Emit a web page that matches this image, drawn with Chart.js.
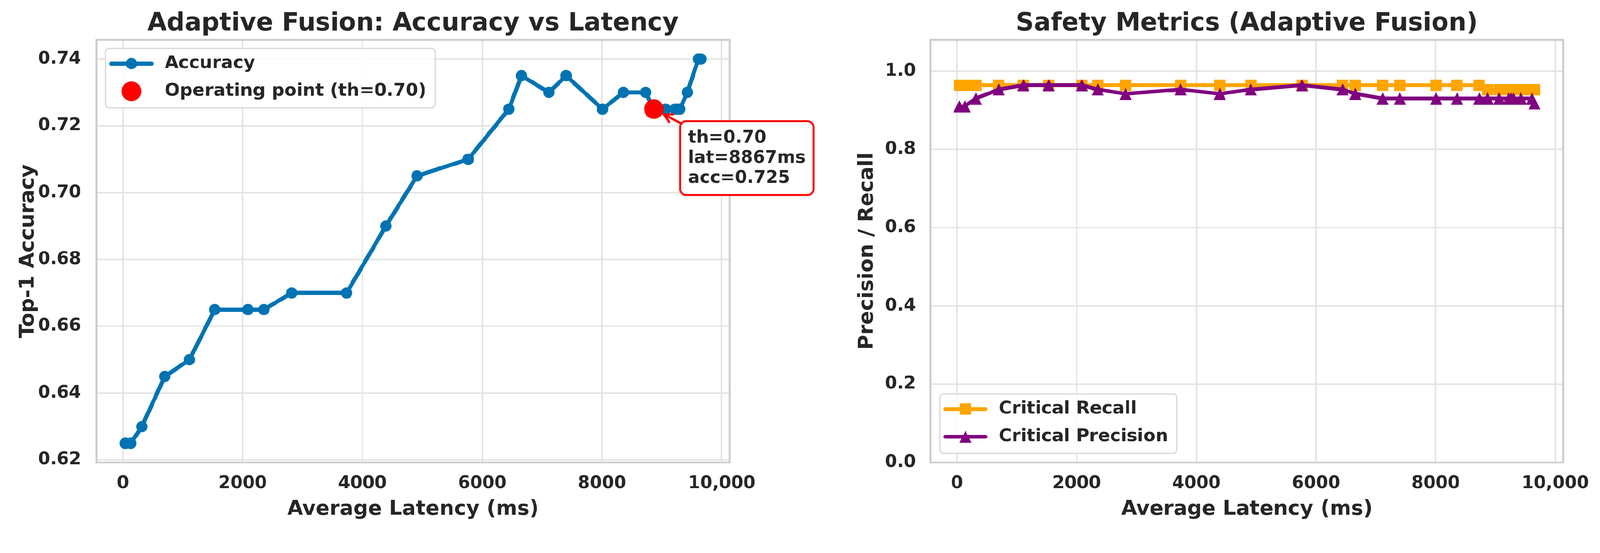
<!DOCTYPE html>
<html>
<head>
<meta charset="utf-8">
<script src="https://cdn.jsdelivr.net/npm/chart.js@4.4.1/dist/chart.umd.min.js"></script>
<style>
  html, body { margin: 0; padding: 0; background: #ffffff; overflow: hidden; }
  #fig { width: 4226px; height: 1415px; position: relative; transform-origin: 0 0; }
  canvas { position: absolute; top: 0; }
  #accChart { left: 0; }
  #safetyChart { left: 2200px; }
</style>
</head>
<body>
<div id="fig">
<canvas id="accChart" width="2200" height="1415"></canvas>
<canvas id="safetyChart" width="2026" height="1415"></canvas>
</div>
<script>
// === Datos del barrido de umbral ===
const latencyMs = [40, 130, 316, 699, 1111, 1533, 2087, 2354, 2818, 3736, 4392, 4910, 5766, 6445,
                   6656, 7113, 7401, 8008, 8357, 8729, 8867, 9060, 9220, 9260, 9300, 9424, 9610, 9650];
const accuracy = [0.625, 0.625, 0.630, 0.645, 0.650, 0.665, 0.665, 0.665, 0.670, 0.670, 0.690, 0.705, 0.710, 0.725,
                  0.735, 0.730, 0.735, 0.725, 0.730, 0.730, 0.725, 0.725, 0.725, 0.725, 0.725, 0.730, 0.740, 0.740];
const criticalRecall = [0.964, 0.964, 0.964, 0.964, 0.964, 0.964, 0.964, 0.964, 0.964, 0.964, 0.964, 0.964, 0.964, 0.964,
                        0.964, 0.964, 0.964, 0.964, 0.964, 0.964, 0.952, 0.952, 0.952, 0.952, 0.952, 0.952, 0.952, 0.952];
const criticalPrecision = [0.910, 0.910, 0.930, 0.953, 0.964, 0.964, 0.964, 0.953, 0.942, 0.953, 0.942, 0.953, 0.964, 0.953,
                           0.942, 0.930, 0.930, 0.930, 0.930, 0.930, 0.930, 0.930, 0.930, 0.930, 0.930, 0.930, 0.930, 0.917];

// punto de operación
const opThreshold = 0.70;
const opLatency = 8867;
const opAccuracy = 0.725;

// ticks
const xTickValues = [0, 2000, 4000, 6000, 8000, 10000];
const xTickLabels = ['0', '2000', '4000', '6000', '8000', '10,000'];
const accTickValues = [0.62, 0.64, 0.66, 0.68, 0.70, 0.72, 0.74];
const accTickLabels = ['0.62', '0.64', '0.66', '0.68', '0.70', '0.72', '0.74'];
const prTickValues = [0, 0.2, 0.4, 0.6, 0.8, 1.0];
const prTickLabels = ['0.0', '0.2', '0.4', '0.6', '0.8', '1.0'];

// colores
const BLUE = '#0173b2';
const RED = '#ff0000';
const ORANGE = '#ffa500';
const PURPLE = '#800080';
const TEXT = '#262626';
const GRID = '#e4e4e4';
const SPINE = '#cccccc';
const FONT = "'DejaVu Sans', sans-serif";

// la figura mide 4226px; si la ventana es más estrecha se escala entera
const fig = document.getElementById('fig');
const fitScale = Math.min(1, window.innerWidth / 4226);
fig.style.transform = `scale(${fitScale})`;

// margen automático tipo matplotlib (5%)
function padded(lo, hi) {
  const m = (hi - lo) * 0.05;
  return [lo - m, hi + m];
}
const [xMin, xMax] = padded(Math.min(...latencyMs), Math.max(...latencyMs));
const [accMin, accMax] = padded(Math.min(...accuracy, opAccuracy), Math.max(...accuracy, opAccuracy));

// marcadores como en matplotlib
function markerCanvas(kind, color, size) {
  const c = document.createElement('canvas');
  c.width = size; c.height = size;
  const g = c.getContext('2d');
  g.fillStyle = color;
  g.beginPath();
  if (kind === 'tri') {
    g.moveTo(size / 2, 0); g.lineTo(size, size); g.lineTo(0, size); g.closePath();
  } else {
    g.rect(0, 0, size, size);
  }
  g.fill();
  return c;
}
const squareMarker = markerCanvas('rect', ORANGE, 30);
const triMarker = markerCanvas('tri', PURPLE, 32);

function xAxis() {
  return {
    type: 'linear', min: xMin, max: xMax,
    afterBuildTicks: s => { s.ticks = xTickValues.map(v => ({ value: v })); },
    afterFit: s => { s.height = 194; },
    grid: { color: GRID, lineWidth: 4, drawTicks: false },
    border: { display: false },
    ticks: { padding: 28, color: TEXT, autoSkip: false, maxRotation: 0,
             font: { family: FONT, size: 46, weight: 'bold' },
             callback: (v, i) => xTickLabels[i] },
    title: { display: true, text: 'Average Latency (ms)', color: TEXT,
             font: { family: FONT, size: 54, weight: 'bold' }, padding: { top: 0, bottom: 38 } }
  };
}

function yAxis(min, max, values, labels, width, pad, title, titlePad) {
  return {
    type: 'linear', min: min, max: max,
    afterBuildTicks: s => { s.ticks = values.map(v => ({ value: v })); },
    afterFit: s => { s.width = width; },
    grid: { color: GRID, lineWidth: 4, drawTicks: false },
    border: { display: false },
    ticks: { padding: pad, color: TEXT, autoSkip: false,
             font: { family: FONT, size: 46, weight: 'bold' },
             callback: (v, i) => labels[i] },
    title: { display: true, text: title, color: TEXT,
             font: { family: FONT, size: 54, weight: 'bold' }, padding: { top: titlePad, bottom: 0 } }
  };
}

// título, marco y leyenda dibujados a mano
function decorPlugin(titleText, legendItems, legendCorner, legendWidthPad) {
  return {
    id: 'decor',
    beforeDatasetsDraw(chart) {
      const { ctx, chartArea: a } = chart;
      ctx.save();
      ctx.strokeStyle = SPINE;
      ctx.lineWidth = 5;
      ctx.strokeRect(a.left, a.top, a.right - a.left, a.bottom - a.top);
      ctx.restore();
    },
    afterDraw(chart) {
      const { ctx, chartArea: a } = chart;
      ctx.save();
      ctx.fillStyle = TEXT;
      ctx.font = `bold 66px ${FONT}`;
      ctx.textAlign = 'center';
      ctx.textBaseline = 'alphabetic';
      ctx.fillText(titleText, (a.left + a.right) / 2, 80);

      // leyenda
      ctx.font = `bold 47px ${FONT}`;
      const tw = Math.max(...legendItems.map(it => ctx.measureText(it.label).width));
      const w = 156 + tw + legendWidthPad;
      const h = 157;
      const lx = a.left + 24;
      const ly = legendCorner === 'upper' ? a.top + 23 : a.bottom - 24 - h;
      ctx.beginPath();
      ctx.roundRect(lx, ly, w, h, 10);
      ctx.fillStyle = 'rgba(255,255,255,0.85)';
      ctx.fill();
      ctx.strokeStyle = '#d6d6d6';
      ctx.lineWidth = 3;
      ctx.stroke();
      legendItems.forEach((it, i) => {
        const cy = ly + 40 + i * 73;
        const x0 = lx + 15, x1 = lx + 121, cx = (x0 + x1) / 2;
        if (it.line) {
          ctx.beginPath();
          ctx.moveTo(x0, cy); ctx.lineTo(x1, cy);
          ctx.strokeStyle = it.color; ctx.lineWidth = it.width; ctx.lineCap = 'round';
          ctx.stroke();
        }
        if (it.marker === 'circle') {
          ctx.beginPath();
          ctx.arc(cx, cy, it.radius, 0, Math.PI * 2);
          ctx.fillStyle = it.color; ctx.fill();
        } else if (it.marker) {
          ctx.drawImage(it.marker, cx - it.marker.width / 2, cy - it.marker.height / 2);
        }
        ctx.fillStyle = TEXT;
        ctx.textAlign = 'left';
        ctx.textBaseline = 'middle';
        ctx.fillText(it.label, lx + 156, cy);
      });
      ctx.restore();
    }
  };
}

// anotación del punto de operación
const opAnnotation = {
  id: 'opAnnotation',
  afterDatasetsDraw(chart) {
    const { ctx, scales } = chart;
    const px = scales.x.getPixelForValue(opLatency);
    const py = scales.y.getPixelForValue(opAccuracy);
    const lines = [`th=${opThreshold.toFixed(2)}`, `lat=${opLatency}ms`, `acc=${opAccuracy.toFixed(3)}`];
    ctx.save();
    ctx.font = `bold 46px ${FONT}`;
    const tw = Math.max(...lines.map(l => ctx.measureText(l).width));
    const bx = px + 69, by = py + 32, bw = tw + 42, bh = 195;

    // flecha desde el borde de la caja hasta el punto
    const cx = bx + bw / 2, cy = by + bh / 2;
    const dx = px - cx, dy = py - cy;
    const len = Math.hypot(dx, dy);
    const ux = dx / len, uy = dy / len;
    const t = Math.min((bw / 2) / Math.abs(dx), (bh / 2) / Math.abs(dy));
    const sx = cx + dx * t, sy = cy + dy * t;
    const ex = px - ux * 30, ey = py - uy * 30;
    ctx.strokeStyle = RED;
    ctx.lineWidth = 6;
    ctx.lineCap = 'round';
    ctx.beginPath();
    ctx.moveTo(sx, sy); ctx.lineTo(ex, ey);
    const ang = Math.atan2(uy, ux);
    [0.5, -0.5].forEach(d => {
      ctx.moveTo(ex, ey);
      ctx.lineTo(ex - 24 * Math.cos(ang + d), ey - 24 * Math.sin(ang + d));
    });
    ctx.stroke();

    ctx.beginPath();
    ctx.roundRect(bx, by, bw, bh, 16);
    ctx.fillStyle = '#ffffff';
    ctx.fill();
    ctx.lineWidth = 5;
    ctx.stroke();
    ctx.fillStyle = TEXT;
    ctx.textAlign = 'left';
    ctx.textBaseline = 'alphabetic';
    lines.forEach((l, i) => ctx.fillText(l, bx + 21, by + 57 + i * 53));
    ctx.restore();
  }
};

// === GRAFICO 1: Accuracy vs Latency ===
new Chart(document.getElementById('accChart'), {
  type: 'line',
  data: {
    datasets: [
      {
        label: 'Accuracy',
        data: latencyMs.map((x, i) => ({ x: x, y: accuracy[i] })),
        borderColor: BLUE, backgroundColor: BLUE,
        borderWidth: 11, borderJoinStyle: 'round', borderCapStyle: 'round',
        pointRadius: 15, pointBorderWidth: 0, pointBackgroundColor: BLUE,
        order: 1
      },
      {
        label: `Operating point (th=${opThreshold.toFixed(2)})`,
        data: [{ x: opLatency, y: opAccuracy }],
        showLine: false,
        pointRadius: 26, pointBorderWidth: 0, pointBackgroundColor: RED, borderColor: RED,
        order: 0
      }
    ]
  },
  options: {
    responsive: false,
    devicePixelRatio: 1,
    animation: false,
    layout: { padding: { top: 105, right: 273, bottom: 0, left: 0 } },
    plugins: { legend: { display: false }, title: { display: false }, tooltip: { enabled: false } },
    scales: {
      x: xAxis(),
      y: yAxis(accMin, accMax, accTickValues, accTickLabels, 255, 41, 'Top-1 Accuracy', 43)
    }
  },
  plugins: [
    decorPlugin('Adaptive Fusion: Accuracy vs Latency', [
      { label: 'Accuracy', color: BLUE, line: true, width: 11, marker: 'circle', radius: 15 },
      { label: `Operating point (th=${opThreshold.toFixed(2)})`, color: RED, line: false, marker: 'circle', radius: 26 }
    ], 'upper', 23),
    opAnnotation
  ]
});

// === GRAFICO 2: Métricas de seguridad ===
new Chart(document.getElementById('safetyChart'), {
  type: 'line',
  data: {
    datasets: [
      {
        label: 'Critical Recall',
        data: latencyMs.map((x, i) => ({ x: x, y: criticalRecall[i] })),
        borderColor: ORANGE, backgroundColor: ORANGE,
        borderWidth: 10, borderJoinStyle: 'round', borderCapStyle: 'round',
        pointStyle: squareMarker, pointRadius: 15,
        order: 2
      },
      {
        label: 'Critical Precision',
        data: latencyMs.map((x, i) => ({ x: x, y: criticalPrecision[i] })),
        borderColor: PURPLE, backgroundColor: PURPLE,
        borderWidth: 10, borderJoinStyle: 'round', borderCapStyle: 'round',
        pointStyle: triMarker, pointRadius: 16,
        order: 1
      }
    ]
  },
  options: {
    responsive: false,
    devicePixelRatio: 1,
    animation: false,
    layout: { padding: { top: 105, right: 95, bottom: 0, left: 0 } },
    plugins: { legend: { display: false }, title: { display: false }, tooltip: { enabled: false } },
    scales: {
      x: xAxis(),
      y: yAxis(0, 1.08, prTickValues, prTickLabels, 258, 39, 'Precision / Recall', 59)
    }
  },
  plugins: [
    decorPlugin('Safety Metrics (Adaptive Fusion)', [
      { label: 'Critical Recall', color: ORANGE, line: true, width: 10, marker: squareMarker },
      { label: 'Critical Precision', color: PURPLE, line: true, width: 10, marker: triMarker }
    ], 'lower', 23)
  ]
});
</script>
</body>
</html>
